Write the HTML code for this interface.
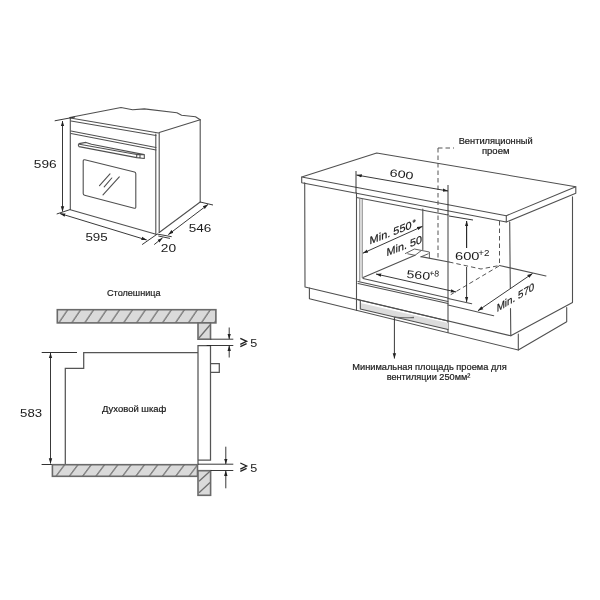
<!DOCTYPE html>
<html><head><meta charset="utf-8">
<style>
html,body{margin:0;padding:0;background:#fff;}
svg{display:block;filter:grayscale(1);}
text{font-family:"Liberation Sans",sans-serif;fill:#1a1a1a;}
.lb{stroke:#1a1a1a;stroke-width:0.2;}
.g{fill:none;stroke:#505050;stroke-width:1.1;stroke-linejoin:round;stroke-linecap:round;}
.gl{fill:none;stroke:#333;stroke-width:1;}
.d{fill:none;stroke:#222;stroke-width:0.9;}
.ds{fill:none;stroke:#555;stroke-width:1;stroke-dasharray:4.5 3;}
.h{fill:#dadada;stroke:#6a6a6a;stroke-width:1.6;}
.hl{fill:none;stroke:#6e6e6e;stroke-width:1.3;}
.s{fill:none;stroke:#555;stroke-width:1.25;}
.ar{fill:#222;stroke:none;}
</style></head>
<body>
<svg width="600" height="600" viewBox="0 0 600 600">
<defs>
<marker id="ah" viewBox="0 0 10 10" refX="9.6" refY="5" markerWidth="5.5" markerHeight="5.5" orient="auto-start-reverse" markerUnits="userSpaceOnUse">
<path d="M0,1.9 L10,5 L0,8.1 z" fill="#222"/>
</marker>
<pattern id="hatch" patternUnits="userSpaceOnUse" width="12.96" height="13" patternTransform="skewX(-34.2)">
<line x1="6.1" y1="-1" x2="6.1" y2="14" stroke="#6a6a6a" stroke-width="1.4"/>
</pattern>
<pattern id="hatch2" patternUnits="userSpaceOnUse" width="13.3" height="13" patternTransform="skewX(-36.87)">
<line x1="0.9" y1="-1" x2="0.9" y2="14" stroke="#6a6a6a" stroke-width="1.4"/>
</pattern>
</defs>

<!-- ============ OVEN ISO (top-left) ============ -->
<g id="oven">
<path class="g" d="M69.7,117.5 L121,107.5 L132.6,109.8 L144.3,108.9 L176.9,112.8 L181.6,115.2 L195.5,116.8 L200.2,119.8"/>
<path class="g" d="M200.2,119.8 L159.2,132.5"/>
<path class="g" d="M200.2,120 L200.2,202"/>
<path class="g" d="M159.2,232.5 L200.2,202"/>
<path class="g" d="M70.3,118 L70.3,209.8 L156,234.3"/>
<path class="g" d="M155.8,134 L155.8,234 M159.2,133 L159.2,232.5"/>
<path class="g" d="M70.3,118 L158.5,133 M71,121 L156,135.5"/>
<path class="g" d="M71,131 L156,147.5 M71,133.5 L156,150"/>
<!-- handle -->
<path class="g" d="M79,143.6 L86,142.4 L91.5,144.3 L144.3,154.6 L144.3,158.5 L136.7,157.6 L79,146.6 Q77.6,145 79,143.6 Z M79.5,144.2 L136.7,154.5 L136.7,157.6 M140,154.9 L140,158.1 M136.7,154.5 L144.3,154.6"/>
<!-- window -->
<path class="g" d="M84.8,159.8 L134.5,172 Q135.8,172.4 135.8,173.8 L135.8,207 Q135.8,208.6 134.2,208.2 L84.6,195.3 Q83.2,195 83.2,193.5 L83.2,161.2 Q83.2,159.5 84.8,159.8 Z"/>
<path class="g" d="M99.5,185.6 L110,173.9 M104.2,186.8 L111.8,178 M103,194.9 L119.3,176.8"/>
<!-- dims -->
<path class="d" d="M54.7,120.8 L75,117"/>
<path class="d" d="M62.5,121 L62.5,211.5" marker-start="url(#ah)" marker-end="url(#ah)"/>
<path class="d" d="M56.7,214 L70.3,209.5"/>
<path class="d" d="M60,213.5 L146.7,240" marker-start="url(#ah)" marker-end="url(#ah)"/>
<path class="d" d="M142.1,244.6 L157.1,234.2"/>
<path class="d" d="M157,234 L171.7,236.7 M158.3,236 L170,238.4"/>
<path class="d" d="M154.2,244.6 L162.5,237.9" marker-end="url(#ah)"/>
<path class="d" d="M168.3,234.6 L208,204.5" marker-start="url(#ah)" marker-end="url(#ah)"/>
<path class="d" d="M200.2,202 L213,205"/>
<text x="33.8" y="168.3" font-size="11.5" textLength="22.8" lengthAdjust="spacingAndGlyphs">596</text>
<text x="85.4" y="241.3" font-size="11.5" textLength="22.3" lengthAdjust="spacingAndGlyphs">595</text>
<text x="188.8" y="231.6" font-size="11.5" textLength="22.6" lengthAdjust="spacingAndGlyphs">546</text>
<text x="160.8" y="251.8" font-size="11.5" textLength="15.3" lengthAdjust="spacingAndGlyphs">20</text>
</g>

<!-- ============ SECTION (bottom-left) ============ -->
<g id="section">
<text class="lb" x="107" y="296.2" font-size="9.7" textLength="53.5" lengthAdjust="spacingAndGlyphs">Столешница</text>
<rect class="h" x="57.3" y="309.7" width="158.6" height="13.2" fill="url(#hatch)"/>
<rect x="57.3" y="309.7" width="158.6" height="13.2" fill="url(#hatch)"/>
<rect class="h" x="198" y="322.9" width="12.5" height="16.3"/>
<path class="hl" d="M198.5,338.5 L210,325"/>
<path class="gl" d="M41.7,352.5 L77,352.5"/>
<path class="d" d="M50.5,353 L50.5,463.5" marker-start="url(#ah)" marker-end="url(#ah)"/>
<path class="gl" d="M41.6,464.5 L65,464.5"/>
<path class="s" d="M198,460 L198,345.5 L210.5,345.5 L210.5,460 L198,460"/>
<path class="s" d="M198,352.5 L83.7,352.5 L83.7,368.3 L65.3,368.3 L65.3,464.5"/>
<path class="s" d="M198,460 L198,464.5"/>
<path class="s" d="M210.5,363.5 L219.3,363.5 L219.3,372.3 L210.5,372.3"/>
<rect class="h" x="52.4" y="464.7" width="145.1" height="11.6"/>
<rect x="52.4" y="464.7" width="145.1" height="11.6" fill="url(#hatch2)"/>
<rect class="h" x="198" y="470.7" width="12.6" height="24.6"/>
<path class="hl" d="M199,481.3 L210,471.3 M199,492.7 L210,482.6"/>
<path class="d" d="M210.5,339.2 L233.3,339.2 M206.7,345.5 L233.3,345.5"/>
<path class="d" d="M229.2,327.5 L229.2,339" marker-end="url(#ah)"/>
<path class="d" d="M229.2,357.5 L229.2,345.7" marker-end="url(#ah)"/>
<path class="d" d="M198,464.2 L233.3,464.2 M210.5,470.5 L233.3,470.5"/>
<path class="d" d="M225.8,446.7 L225.8,464" marker-end="url(#ah)"/>
<path class="d" d="M225.8,488.3 L225.8,470.7" marker-end="url(#ah)"/>
<path class="d" style="stroke-width:1.35" d="M240.3,338.3 L246.6,341.3 L240.3,344.4 M240.3,346.7 L246.6,343.7"/><text x="250.3" y="346.8" font-size="11" textLength="7" lengthAdjust="spacingAndGlyphs">5</text>
<path class="d" style="stroke-width:1.35" d="M240.3,463 L246.6,466 L240.3,469.1 M240.3,471.4 L246.6,468.4"/><text x="250.3" y="471.5" font-size="11" textLength="7" lengthAdjust="spacingAndGlyphs">5</text>
<text x="20.1" y="417.3" font-size="11.5" textLength="22" lengthAdjust="spacingAndGlyphs">583</text>
<text class="lb" x="102" y="412.2" font-size="9.3" textLength="64.3" lengthAdjust="spacingAndGlyphs">Духовой шкаф</text>
</g>

<!-- ============ CABINET (right) ============ -->
<g id="cab">
<!-- countertop -->
<path class="g" d="M301.7,177 L376.7,153 L575.8,186.7 L506.3,215.7 Z"/>
<path class="g" d="M301.7,177 L301.7,182.7 L506.3,222 L506.3,215.7"/>
<path class="g" d="M575.8,186.7 L575.8,193.3 L506.3,222"/>
<!-- cabinet body -->
<path class="g" d="M304.7,182.7 L305,287 L510.8,335.8"/>
<path class="g" d="M309.4,288 L309.4,298.7 L518.3,350 L566.7,321.7 L566.7,307.5"/>
<path class="g" d="M518.3,334 L518.3,350"/>
<path class="g" d="M509.7,222 L510.3,288 M510.5,308.5 L510.8,335.8 L572.5,302.5 L572.5,196.7"/>
<!-- niche -->
<path class="g" d="M356.5,193 L356.5,310.5"/>
<path class="g" d="M448,215 L448,332.5"/>
<path class="g" d="M356.5,197.5 L448,215"/>
<path class="g" style="stroke-width:0.75" d="M359.8,199 L359.8,281 M362.2,199.5 L362.2,277.5"/>
<path class="g" d="M422.8,209 L422.8,249.6"/>
<!-- floor -->
<path class="g" d="M363,277.5 L415,255.3"/>
<path class="g" style="stroke-width:0.9" d="M405.4,253.5 L414.4,249 L429.4,252 L429.4,258 M407.8,253.8 L415,255.3 L421,250.8 M421,256.8 L428.2,253.8"/>
<path class="g" d="M421,256.6 L449,262"/>
<path class="g" d="M363,278.5 L448,298 M358,281.5 L448,301.5 M358,283.5 L448,303.5"/>
<!-- vent -->
<path d="M360.5,303 L448,323 L448,329.5 L360.5,309 Z" fill="#dcdcdc"/>
<path class="g" d="M357,299.5 L448,321 M360.3,300.5 L360.3,309 L448,329.5"/>
<!-- right panel lines -->
<path class="g" d="M448,298.5 L471.7,303.7 M448,305 L493.7,315.7"/>
<!-- dashed -->
<path class="ds" d="M438,148 L438,259 M438,148 L454,148"/>
<path class="ds" d="M499.5,221 L499.5,266"/>
<path class="ds" d="M449,262 L481,269 L499.5,265.5"/>
<path class="ds" d="M499,266 L450.7,294.7"/>
<path class="g" d="M499.5,265.5 L546,276"/>
<!-- dims -->
<path class="d" d="M356,171 L356,193"/>
<path class="d" d="M356.5,175 L448,191" marker-start="url(#ah)" marker-end="url(#ah)"/>
<path class="d" d="M448,185 L448,215"/>
<path class="d" d="M362.9,253.2 L422.4,226.4" marker-start="url(#ah)" marker-end="url(#ah)"/>
<path class="d" d="M376,274 L456,292" marker-start="url(#ah)" marker-end="url(#ah)"/>
<path class="d" d="M449,216 L473,220"/>
<path class="d" d="M466.6,221 L466.6,248 M466.6,267 L466.6,302" marker-end="url(#ah)"/>
<path class="d" d="M466.6,248 L466.6,221" marker-end="url(#ah)"/>
<path class="d" d="M478,310.7 L532.5,273.5" marker-start="url(#ah)" marker-end="url(#ah)"/>
<path class="d" d="M394.4,317 L394.4,358.5" marker-end="url(#ah)"/>
<path d="M394.4,316.6 Q404,318 414,316.8 L414,318.2 Q404,318.6 394.4,318 Z" fill="#666"/>
<text font-size="10.5" textLength="24" lengthAdjust="spacingAndGlyphs" transform="matrix(0.992,0.13,-0.13,0.992,389.2,176.3)">600</text>
<text x="455" y="260" font-size="11" textLength="24.5" lengthAdjust="spacingAndGlyphs">600</text><text x="478.3" y="255.6" font-size="8.5" textLength="11.2" lengthAdjust="spacingAndGlyphs">+2</text>
<text font-size="11" textLength="23.5" lengthAdjust="spacingAndGlyphs" transform="matrix(0.995,0.1,-0.1,0.995,406.3,277.8)">560</text>
<text font-size="8.5" textLength="10" lengthAdjust="spacingAndGlyphs" transform="matrix(0.995,0.1,-0.1,0.995,429,275.8)">+8</text>
<text class="lb" font-size="10.8" textLength="42" lengthAdjust="spacingAndGlyphs" transform="matrix(1,-0.38,0,1,369.6,244.4)">Min. 550</text>
<text class="lb" font-size="8.5" transform="matrix(1,-0.38,0,1,412.6,226)">*</text>
<text class="lb" font-size="10.8" textLength="35.3" lengthAdjust="spacingAndGlyphs" transform="matrix(1,-0.38,0,1,386.6,256.2)">Min. 50</text>
<text class="lb" font-size="10.8" textLength="37.6" lengthAdjust="spacingAndGlyphs" transform="matrix(1,-0.6,0,1,496.7,312.2)">Min. 570</text>
<text class="lb" x="495.7" y="143.5" font-size="9.2" text-anchor="middle" textLength="74" lengthAdjust="spacingAndGlyphs">Вентиляционный</text>
<text class="lb" x="495.7" y="154" font-size="9.2" text-anchor="middle" textLength="27.5" lengthAdjust="spacingAndGlyphs">проем</text>
<text class="lb" x="429.5" y="370" font-size="9.2" text-anchor="middle" textLength="154.5" lengthAdjust="spacingAndGlyphs">Минимальная площадь проема для</text>
<text class="lb" x="428.5" y="380" font-size="9.2" text-anchor="middle">вентиляции 250мм²</text>
</g>
</svg>
</body></html>
